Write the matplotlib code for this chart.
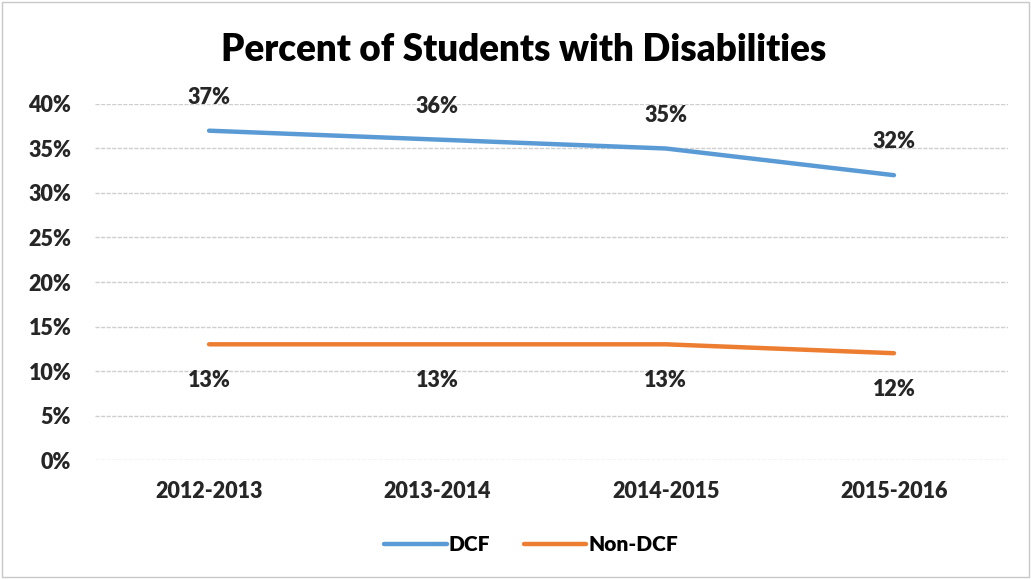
import matplotlib.pyplot as plt
from matplotlib.ticker import PercentFormatter

plt.rcParams['font.family'] = ['Lato', 'DejaVu Sans']

years = ["2012-2013", "2013-2014", "2014-2015", "2015-2016"]
dcf = [37, 36, 35, 32]
non_dcf = [13, 13, 13, 12]
yticks = [0, 5, 10, 15, 20, 25, 30, 35, 40]

blue = "#5B9BD5"
orange = "#ED7D31"
text_col = "#262626"
fs = 15.5

fig = plt.figure(figsize=(10.31, 5.79), dpi=100)
ax = fig.add_axes([0.0921, 0.2055, 0.8857, 0.6149])

x = range(len(years))
ax.plot(x, dcf, color=blue, lw=3.2, solid_capstyle="round", label="DCF", zorder=3)
ax.plot(x, non_dcf, color=orange, lw=3.2, solid_capstyle="round", label="Non-DCF", zorder=3)

# data labels: above for DCF, below for Non-DCF
for i, v in enumerate(dcf):
    ax.annotate(f"{v}%", (i, v), xytext=(0, 24), textcoords="offset points",
                ha="center", va="center", fontsize=fs, fontweight="heavy", color=text_col)
for i, v in enumerate(non_dcf):
    ax.annotate(f"{v}%", (i, v), xytext=(0, -26), textcoords="offset points",
                ha="center", va="center", fontsize=fs, fontweight="heavy", color=text_col)

ax.set_xlim(-0.5, 3.5)
ax.set_ylim(0, 40)
ax.set_yticks(yticks)
ax.yaxis.set_major_formatter(PercentFormatter(decimals=0))
ax.set_xticks(list(x))
ax.set_xticklabels(years)
ax.tick_params(length=0, labelsize=fs, colors=text_col)
ax.tick_params(axis="x", pad=15)
ax.tick_params(axis="y", pad=17)
for lab in ax.get_xticklabels() + ax.get_yticklabels():
    lab.set_fontweight("heavy")

ax.grid(axis="y", color="#CFCFCF", lw=1, ls=(0, (3, 1)))
ax.set_axisbelow(True)
for s in ax.spines.values():
    s.set_visible(False)

fig.text(0.508, 0.914, "Percent of Students with Disabilities", ha="center", va="center",
         fontsize=26.5, fontweight="heavy", color="black")

fig.legend(loc="center", bbox_to_anchor=(0.515, 0.059), ncol=2, frameon=False,
           handlelength=3.0, handletextpad=0.1, columnspacing=1.6,
           prop={"weight": "heavy", "size": 15})

# light border around the whole chart
fig.patches.append(plt.Rectangle((0.002, 0.003), 0.996, 0.994, transform=fig.transFigure,
                                 fill=False, ec="#C8C8C8", lw=1))

fig.savefig("out.png", dpi=100)
